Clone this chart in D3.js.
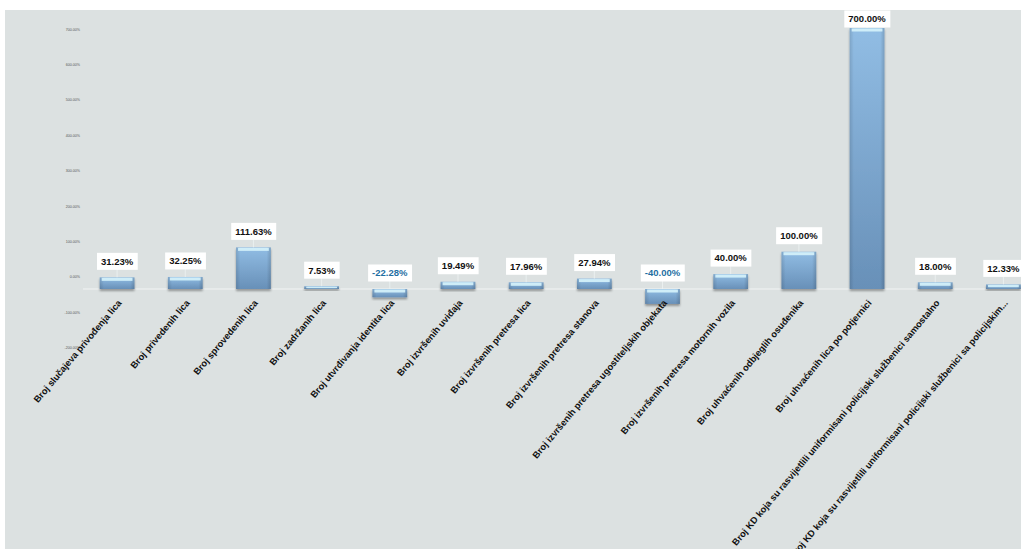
<!DOCTYPE html>
<html><head><meta charset="utf-8">
<script src="https://cdn.jsdelivr.net/npm/d3@7"></script>
<style>
html,body{margin:0;padding:0;background:#fff;}
svg{display:block;}
</style></head>
<body>
<svg id="chart" width="1021" height="549"></svg>
<script>
const categories = [
  "Broj slučajeva privođenja lica",
  "Broj privedenih lica",
  "Broj sprovedenih lica",
  "Broj zadržanih lica",
  "Broj utvrđivanja identita lica",
  "Broj izvršenih uviđaja",
  "Broj izvršenih pretresa lica",
  "Broj izvršenih pretresa stanova",
  "Broj izvršenih pretresa ugostiteljskih objekata",
  "Broj izvršenih pretresa motornih vozila",
  "Broj uhvaćenih odbjeglih osuđenika",
  "Broj uhvaćenih lica po potjernici",
  "Broj KD koja su rasvijetlili uniformisani policijski službenici  samostalno",
  "Broj KD koja su rasvijetlili uniformisani policijski službenici sa policijskim..."
];
const values = [31.23, 32.25, 111.63, 7.53, -22.28, 19.49, 17.96, 27.94, -40.00, 40.00, 100.00, 700.00, 18.00, 12.33];
const tickValues = [700, 600, 500, 400, 300, 200, 100, 0, -100, -200];

const svg = d3.select("#chart");
const W = 1021, H = 549;
const pct = d => (d < 0 ? "-" : "") + Math.abs(d).toFixed(2) + "%";

svg.append("rect").attr("x", 5).attr("y", 10).attr("width", W - 5).attr("height", H - 10).attr("fill", "#dce1e1");

const defs = svg.append("defs");
const g1 = defs.append("linearGradient").attr("id", "barGrad").attr("x1", 0).attr("y1", 0).attr("x2", 0).attr("y2", 1);
g1.append("stop").attr("offset", "0%").attr("stop-color", "#91bde4");
g1.append("stop").attr("offset", "100%").attr("stop-color", "#6890b8");
const g2 = defs.append("linearGradient").attr("id", "barGradH").attr("x1", 0).attr("y1", 0).attr("x2", 1).attr("y2", 0);
g2.append("stop").attr("offset", "0%").attr("stop-color", "#000").attr("stop-opacity", 0.12);
g2.append("stop").attr("offset", "12%").attr("stop-color", "#000").attr("stop-opacity", 0);
g2.append("stop").attr("offset", "88%").attr("stop-color", "#000").attr("stop-opacity", 0);
g2.append("stop").attr("offset", "100%").attr("stop-color", "#000").attr("stop-opacity", 0.15);
const f = defs.append("filter").attr("id", "shadow").attr("x", "-20%").attr("y", "-20%").attr("width", "140%").attr("height", "160%");
f.append("feDropShadow").attr("dx", 0).attr("dy", 2).attr("stdDeviation", 1.2).attr("flood-color", "#000").attr("flood-opacity", 0.35);

const x = d3.scaleBand().domain(categories).range([83, 1037.5]).paddingInner(0.49).paddingOuter(0.245);
const y = d3.scaleLinear().domain([0, 700]).range([289, 28]);
const yAxisScale = d3.scaleLinear().domain([-200, 700]).range([347.5, 29]);

// y axis (tiny labels)
const yAxis = d3.axisLeft(yAxisScale).tickValues(tickValues).tickSize(0).tickPadding(0).tickFormat(pct);
const ya = svg.append("g").attr("transform", "translate(80,0)").call(yAxis);
ya.select(".domain").remove();
ya.selectAll("text").attr("font-family", "Liberation Sans, Arial, sans-serif").attr("font-size", 3.6).attr("fill", "#555");

// zero line
svg.append("line").attr("x1", 83).attr("x2", W).attr("y1", y(0)).attr("y2", y(0)).attr("stroke", "#f2f4f4").attr("stroke-width", 1);

const data = categories.map((c, i) => ({c, v: values[i]}));

const bars = svg.append("g").selectAll("g").data(data).join("g");
bars.append("rect")
  .attr("x", d => x(d.c)).attr("width", x.bandwidth())
  .attr("y", d => Math.min(y(d.v), y(0))).attr("height", d => Math.abs(y(d.v) - y(0)))
  .attr("fill", "url(#barGrad)").attr("filter", "url(#shadow)");
bars.append("rect")
  .attr("x", d => x(d.c)).attr("width", x.bandwidth())
  .attr("y", d => Math.min(y(d.v), y(0))).attr("height", d => Math.abs(y(d.v) - y(0)))
  .attr("fill", "url(#barGradH)");
bars.append("rect")
  .attr("x", d => x(d.c) + 2).attr("width", x.bandwidth() - 4)
  .attr("y", d => Math.min(y(d.v), y(0)) + 0.5).attr("height", d => Math.min(3, Math.abs(y(d.v) - y(0)) * 0.5))
  .attr("fill", "#d6f3fb").attr("opacity", 0.9);

// data labels
const labels = svg.append("g").selectAll("g").data(data).join("g")
  .attr("transform", d => {
    const cx = x(d.c) + x.bandwidth() / 2;
    const cy = Math.max(19, Math.min(y(d.v), y(0)) - 16);
    return `translate(${cx},${cy})`;
  });
labels.append("line").attr("x1", 0).attr("x2", 0).attr("y1", 8).attr("y2", d => Math.max(8, Math.min(y(d.v), y(0)) - Math.max(19, Math.min(y(d.v), y(0)) - 16)))
  .attr("stroke", "#eef2f2").attr("stroke-width", 0.8);
const lt = labels.append("text").text(d => pct(d.v))
  .attr("text-anchor", "middle").attr("dy", "0.35em")
  .attr("font-family", "Liberation Sans, Arial, sans-serif").attr("font-weight", "bold").attr("font-size", 9.5)
  .attr("fill", d => d.v < 0 ? "#1f6fa3" : "#111");
lt.each(function() {
  const bb = this.getBBox();
  d3.select(this.parentNode).insert("rect", "text")
    .attr("x", bb.x - 4).attr("y", -8.5).attr("width", bb.width + 8).attr("height", 17).attr("fill", "#fff");
});

// x axis labels
const xAxis = d3.axisBottom(x).tickSize(0).tickPadding(0);
const xa = svg.append("g").attr("transform", "translate(0,299)").call(xAxis);
xa.select(".domain").remove();
xa.selectAll("text")
  .attr("font-family", "Liberation Sans, Arial, sans-serif").attr("font-weight", "bold").attr("font-size", 9.3)
  .attr("fill", "#111").attr("text-anchor", "end").attr("dy", "0.7em").attr("y", 0)
  .attr("transform", "rotate(-50)");
</script>
</body></html>
